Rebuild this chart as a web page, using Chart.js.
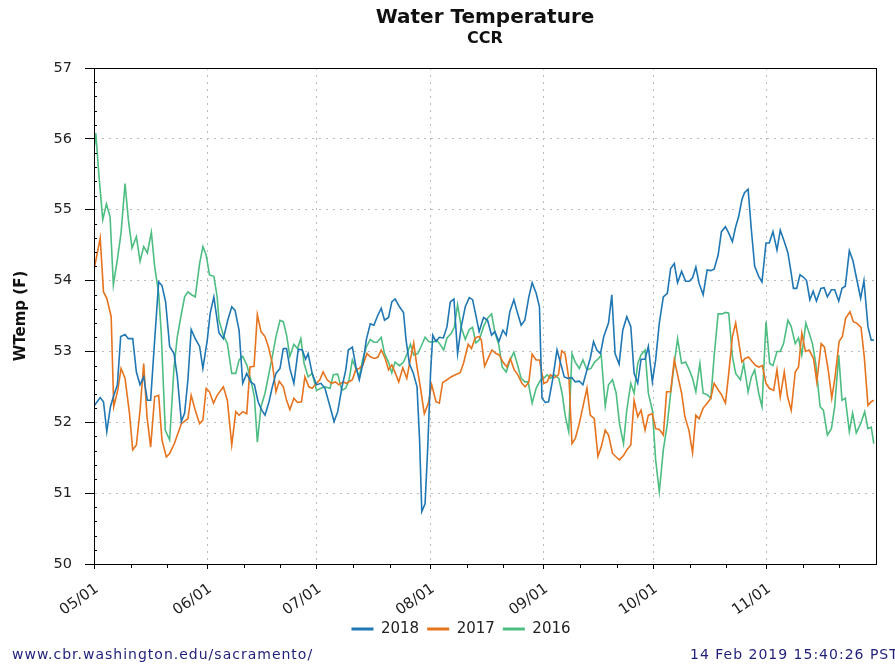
<!DOCTYPE html>
<html lang="en">
<head>
    <meta charset="UTF-8">
    <title>Water Temperature - CCR</title>
    <script src="https://cdn.jsdelivr.net/npm/chart.js"></script>
    <style>
        html, body {
            margin: 0;
            padding: 0;
            background: #fff;
            overflow: hidden;
        }
        canvas {
            display: block;
        }
    </style>
</head>
<body>
    <canvas id="tempChart" width="895" height="664"></canvas>

    <script>
        // x values are days after 05/01
        const monthDays = [0, 31, 61, 92, 123, 153, 184];
        const monthLabels = ['05/01', '06/01', '07/01', '08/01', '09/01', '10/01', '11/01'];
        const minorDays = [10, 20, 41, 51, 71, 81, 102, 112, 133, 143, 163, 173, 194, 204];
        const seriesNames = ['2018', '2017', '2016'];
        const seriesColors = ['#1f77b4', '#e6731e', '#4dbd82'];

        const days2018 = [0, 1.7, 2.6, 3.5, 4.5, 5.3, 6.4, 7.3, 8.5, 9.4, 10.6, 11.6, 12.6, 13.6, 14.6, 15.5, 16.6, 17.7, 18.6, 19.6, 20.7, 21.9, 22.8, 23.9, 24.8, 25.7, 26.6, 27.7, 28.9, 29.8, 31, 31.8, 32.8,
            34.2, 35.4, 36.6, 37.7, 38.6, 39.7, 40.7, 41.8, 42.9, 43.9, 44.9, 45.9, 46.8, 47.9, 48.8, 49.8, 50.9, 51.8, 52.7, 53.6, 54.7, 55.9, 57, 57.9, 58.6, 59.7, 60.9, 62.1, 63.2, 64.6, 65.7, 66.7, 67.8, 68.9,
            69.6, 70.7, 71.7, 72.6, 73.6, 74.5, 75.6, 76.6, 77.5, 78.6, 79.5, 80.6, 81.5, 82.4, 83.6, 84.7, 85.4, 86.3, 87.4, 88.4, 89.1, 89.7, 90.6, 91.3, 92.1, 92.7, 93.6, 94.5, 95.6, 96.6, 97.5, 98.5, 99.5, 100.5, 101.6, 102.7, 103.6, 104.5,
            105.4, 106.6, 107.7, 108.8, 109.7, 110.8, 111.9, 112.8, 113.8, 114.9, 115.8, 116.9, 117.9, 119, 119.9, 121, 121.9, 122.6, 123.5, 124.4, 125.5, 126.7, 127.6, 128.7, 129.7, 130.8, 131.7, 132.8, 133.8, 134.9, 135.8, 136.7, 137.6, 138.6, 139.5,
            140.8, 141.7, 142.6, 143.7, 144.7, 145.8, 146.9, 147.8, 148.8, 149.7, 150.8, 151.7, 152.8, 153.7, 154.7, 155.8, 156.9, 157.8, 158.8, 159.7, 160.8, 161.9, 162.9, 163.8, 164.7, 165.6, 166.7, 167.8, 168.8, 169.7, 170.8, 171.7, 172.8, 173.7, 174.7, 175.6,
            176.4, 177.3, 178, 179, 179.9, 180.8, 181.9, 182.8, 183.9, 184.8, 185.8, 186.9, 187.8, 188.9, 189.9, 190.8, 191.4, 192.3, 193.2, 194.1, 195, 195.9, 196.8, 197.7, 198.9, 199.8, 200.7, 201.8, 202.7, 203.8, 204.7, 205.6, 206.7, 207.7, 208.6, 209.8, 210.7, 211.8, 212.7, 213.4];
        const temp2018 = [52.23, 52.35, 52.29, 51.87, 52.22, 52.36, 52.53, 53.21, 53.24, 53.18, 53.18, 52.71, 52.53, 52.64, 52.31, 52.31, 53.16, 53.98, 53.93, 53.70, 53.07, 52.97, 52.64, 52.01, 52.13, 52.60, 53.31, 53.18, 53.07, 52.76, 53.16, 53.54, 53.77,
            53.26, 53.18, 53.44, 53.63, 53.58, 53.30, 52.55, 52.69, 52.57, 52.53, 52.29, 52.17, 52.10, 52.29, 52.50, 52.69, 52.76, 53.04, 53.04, 52.76, 52.55, 53.03, 53.02, 52.89, 52.97, 52.69, 52.53, 52.55, 52.48, 52.22, 52.01, 52.15, 52.48, 52.74,
            53.02, 53.06, 52.78, 52.60, 52.83, 53.16, 53.39, 53.37, 53.49, 53.61, 53.44, 53.48, 53.70, 53.74, 53.63, 53.55, 53.16, 52.83, 52.69, 52.50, 51.75, 50.74, 50.85, 51.61, 52.69, 53.23, 53.14, 53.20, 53.19, 53.35, 53.70, 53.74, 52.97, 53.35, 53.63, 53.76, 53.73, 53.51,
            53.28, 53.48, 53.44, 53.23, 53.28, 53.14, 53.30, 53.23, 53.56, 53.73, 53.56, 53.37, 53.44, 53.77, 53.97, 53.82, 53.63, 52.34, 52.28, 52.29, 52.60, 53.02, 52.85, 52.64, 52.62, 52.63, 52.57, 52.58, 52.53, 52.74, 52.90, 53.14, 53.02, 52.97, 53.21,
            53.40, 53.80, 52.97, 52.82, 53.30, 53.49, 53.35, 52.69, 52.55, 52.89, 52.89, 53.07, 52.57, 52.88, 53.40, 53.77, 53.82, 54.17, 54.24, 53.97, 54.13, 53.99, 53.99, 54.04, 54.19, 53.96, 53.80, 54.15, 54.14, 54.16, 54.36, 54.69, 54.76, 54.67, 54.55, 54.76,
            54.90, 55.14, 55.24, 55.29, 54.71, 54.20, 54.06, 53.98, 54.53, 54.53, 54.69, 54.43, 54.71, 54.55, 54.39, 54.10, 53.89, 53.89, 54.08, 54.05, 54.00, 53.73, 53.85, 53.71, 53.89, 53.90, 53.77, 53.87, 53.87, 53.71, 53.89, 53.92, 54.42, 54.28, 54.05, 53.75, 54.00, 53.35, 53.16, 53.16];

        const days2017 = [0, 1.7, 2.6, 3.5, 4.7, 5.4, 6.5, 7.4, 8.5, 9.7, 10.6, 11.6, 12.6, 13.6, 14.5, 15.5, 16.6, 17.7, 18.6, 19.8, 20.7, 22, 23.9, 25.7, 26.6, 27.7, 28.9, 29.8, 30.7, 31.6, 32.7, 33.7,
            35.4, 36.5, 37.7, 38.8, 39.7, 40.7, 41.8, 42.7, 43.8, 44.7, 45.7, 46.8, 47.7, 48.8, 49.8, 50.7, 51.8, 52.7, 53.6, 54.7, 55.7, 56.8, 57.7, 58.8, 59.7, 60.9, 61.8, 62.7, 63.8, 65, 66.1, 67, 68.2, 69.1,
            70.7, 71.7, 72.6, 73.6, 74.7, 75.7, 76.8, 77.7, 78.6, 79.7, 80.6, 81.5, 82.5, 83.4, 84.5, 85.6, 86.5, 87.5, 88.4, 89.3, 90.4, 91.5, 92.4, 93.6, 94.5, 95.4, 96.6, 97.7, 98.9, 100.2, 101.1, 102.4, 103.3, 104.3,
            105.4, 106, 106.9, 108, 108.9, 110, 110.9, 111.9, 113, 113.9, 115, 116, 117.1, 118, 119, 119.9, 121, 121.9, 123.1, 124, 124.9, 126, 127.1, 128, 128.9, 130, 130.8, 131.7, 132.8, 133.8, 134.9, 135.8, 136.9, 137.9, 138.8, 139.9,
            140.8, 141.9, 142.9, 143.8, 144.9, 145.8, 146.9, 147.8, 148.8, 149.7, 150.8, 151.7, 152.8, 153.7, 154.7, 155.8, 156.7, 157.8, 158.8, 159.7, 160.8, 161.7, 162.8, 163.8, 164.7, 165.6, 166.7, 167.8, 168.8, 169.7, 170.8, 171.7, 172.8, 173.7, 174.7, 175.6,
            176.2, 177.3, 178.2, 179.1, 180.2, 181.1, 182, 182.9, 183.9, 184.8, 186, 186.9, 187.8, 188.9, 189.8, 190.8, 191.9, 192.8, 193.7, 194.7, 195.7, 196.9, 197.8, 199, 199.9, 201, 201.9, 202.8, 203.9, 204.8, 205.7, 206.9, 207.8, 208.7, 209.9, 210.8, 211.8, 212.7, 213.4];
        const temp2017 = [54.15, 54.60, 53.84, 53.75, 53.49, 52.22, 52.45, 52.76, 52.62, 52.13, 51.61, 51.68, 52.17, 52.83, 52.08, 51.65, 52.36, 52.38, 51.75, 51.51, 51.56, 51.70, 51.98, 52.05, 52.38, 52.17, 51.98, 52.03, 52.48, 52.43, 52.27, 52.38,
            52.50, 52.31, 51.68, 52.15, 52.10, 52.15, 52.12, 52.78, 52.79, 53.52, 53.28, 53.21, 53.07, 52.83, 52.43, 52.58, 52.50, 52.31, 52.18, 52.34, 52.28, 52.29, 52.64, 52.50, 52.48, 52.55, 52.60, 52.71, 52.60, 52.55, 52.57, 52.53, 52.57, 52.55,
            52.60, 52.75, 52.76, 52.81, 52.97, 52.92, 52.90, 52.92, 53.02, 52.90, 52.74, 52.81, 52.69, 52.57, 52.77, 52.62, 52.87, 53.12, 52.78, 52.50, 52.12, 52.27, 52.53, 52.29, 52.27, 52.56, 52.60, 52.64, 52.67, 52.70, 52.83, 53.10, 53.04, 53.19,
            53.21, 53.16, 52.79, 52.92, 53.02, 52.97, 52.95, 52.85, 52.78, 52.90, 52.74, 52.67, 52.55, 52.50, 52.57, 52.96, 52.88, 52.88, 52.55, 52.57, 52.67, 52.63, 52.67, 53.01, 52.97, 52.60, 51.70, 51.77, 51.98, 52.22, 52.48, 52.10, 52.05, 51.52, 51.65, 51.89,
            51.82, 51.56, 51.51, 51.47, 51.53, 51.61, 51.68, 52.31, 52.08, 52.17, 51.89, 52.10, 52.12, 51.91, 51.90, 51.82, 52.43, 52.43, 52.88, 52.67, 52.41, 52.08, 51.89, 51.57, 52.10, 52.05, 52.20, 52.27, 52.34, 52.55, 52.46, 52.39, 52.27, 52.69, 53.21, 53.40,
            53.21, 52.85, 52.90, 52.92, 52.85, 52.80, 52.78, 52.80, 52.55, 52.48, 52.45, 52.74, 52.36, 52.71, 52.36, 52.17, 52.71, 52.78, 53.26, 53.00, 53.02, 52.90, 52.57, 53.11, 53.06, 52.71, 52.34, 52.64, 53.14, 53.21, 53.47, 53.56, 53.42, 53.40, 53.34, 52.92, 52.24, 52.29, 52.31];

        const days2016 = [0, 0.5, 1.4, 2.4, 3.4, 4.4, 5.3, 6.4, 7.4, 8.5, 9.4, 10.4, 11.6, 12.6, 13.6, 14.6, 15.7, 16.6, 17.7, 18.4, 19.5, 20.7, 21.9, 22.8, 23.8, 24.8, 25.7, 26.7, 27.7, 28.9, 29.8, 30.7, 31.6, 32.8, 33.7,
            34.2, 35.4, 36.5, 37.7, 38.8, 39.7, 40.7, 41.8, 42.9, 43.9, 44.7, 45.7, 46.8, 47.7, 48.8, 49.8, 50.9, 51.8, 52.7, 53.6, 54.7, 55.7, 56.6, 57.5, 58.6, 59.7, 60.9, 62.1, 63.2, 64.6, 65.5, 66.7, 67.8, 68.9,
            69.8, 70.7, 71.7, 72.6, 73.6, 74.5, 75.6, 76.6, 77.5, 78.6, 79.5, 80.6, 81.5, 82.4, 83.6, 84.7, 85.7, 86.6, 87.5, 88.6, 89.5, 90.6, 91.6, 92.7, 93.8, 94.7, 95.7, 96.6, 97.7, 98.6, 99.5, 100.5, 101.6, 102.7, 103.6, 104.5,
            105.4, 106.6, 107.7, 108.8, 109.7, 110.8, 111.7, 112.8, 113.8, 114.9, 115.8, 116.9, 117.9, 118.8, 119.9, 121, 122.2, 123.1, 124, 124.9, 126, 127.2, 128.1, 129, 129.9, 130.8, 131.7, 132.8, 133.8, 134.9, 136, 137, 138.1, 138.8, 139.9,
            140.8, 141.9, 142.9, 143.8, 144.9, 145.8, 146.9, 147.8, 148.8, 149.7, 150.8, 151.7, 152.8, 153.7, 154.7, 155.8, 156.9, 157.8, 158.8, 159.7, 160.8, 161.9, 162.9, 163.8, 164.7, 165.8, 166.7, 167.8, 168.8, 169.7, 170.8, 171.9, 172.8, 173.7, 174.7, 175.6,
            176.9, 177.8, 179, 179.9, 180.8, 181.9, 182.8, 183.9, 184.9, 185.8, 186.9, 187.8, 188.7, 189.9, 190.8, 191.9, 192.8, 193.7, 194.8, 195.7, 196.6, 197.5, 198.7, 199.6, 200.7, 201.8, 202.7, 203.8, 204.7, 205.6, 206.7, 207.6, 208.6, 209.8, 210.9, 211.8, 212.7, 213.4];
        const temp2016 = [55.85, 56.08, 55.45, 54.86, 55.08, 54.90, 53.94, 54.30, 54.67, 55.37, 54.86, 54.46, 54.62, 54.27, 54.48, 54.39, 54.68, 54.20, 53.82, 53.26, 51.89, 51.75, 52.78, 53.21, 53.50, 53.77, 53.84, 53.80, 53.77, 54.24, 54.48, 54.36, 54.08, 54.06, 53.77,
            53.44, 53.23, 53.11, 52.69, 52.69, 52.88, 52.93, 52.81, 52.60, 52.36, 51.72, 52.22, 52.41, 52.64, 52.93, 53.21, 53.44, 53.42, 53.23, 52.93, 53.10, 53.04, 53.18, 52.83, 52.64, 52.69, 52.45, 52.48, 52.50, 52.48, 52.67, 52.68, 52.45, 52.48,
            52.60, 52.88, 52.76, 52.64, 52.90, 53.06, 53.17, 53.13, 53.13, 53.20, 52.97, 52.85, 52.70, 52.85, 52.80, 52.85, 52.97, 53.10, 52.95, 52.97, 53.07, 53.20, 53.14, 53.13, 53.16, 53.10, 53.02, 53.19, 53.25, 53.34, 53.66, 53.34, 53.17, 53.31, 53.34, 53.12,
            53.16, 53.35, 53.47, 53.53, 53.27, 53.09, 52.78, 52.71, 52.87, 52.99, 52.83, 52.62, 52.57, 52.57, 52.27, 52.48, 52.60, 52.62, 52.67, 52.62, 52.67, 52.62, 52.41, 52.08, 51.87, 52.97, 52.85, 52.76, 52.88, 52.74, 52.76, 52.85, 52.90, 52.95, 52.23,
            52.53, 52.60, 52.41, 51.98, 51.70, 52.17, 52.55, 52.41, 52.83, 52.95, 53.02, 52.41, 52.17, 51.47, 51.02, 51.61, 51.98, 52.41, 52.83, 53.18, 52.83, 52.85, 52.74, 52.62, 52.43, 52.83, 52.41, 52.39, 52.34, 52.93, 53.53, 53.53, 53.55, 53.54, 52.93, 52.69,
            52.60, 52.83, 52.43, 52.64, 52.74, 52.41, 52.22, 53.42, 52.83, 52.80, 53.00, 53.00, 53.11, 53.44, 53.35, 53.11, 53.19, 52.95, 53.40, 53.26, 53.11, 52.83, 52.22, 52.17, 51.82, 51.91, 52.22, 52.95, 52.31, 52.34, 51.87, 52.13, 51.85, 51.98, 52.15, 51.91, 51.93, 51.70];

        const FONT = 'DejaVu Sans';
        Chart.defaults.font.family = FONT;

        function toPoints(days, temps) {
            return days.map((d, i) => ({ x: d, y: temps[i] }));
        }

        const allDays = [days2018, days2017, days2016];
        const allTemps = [temp2018, temp2017, temp2016];

        const datasets = seriesNames.map((name, i) => ({
            label: name,
            data: toPoints(allDays[i], allTemps[i]),
            borderColor: seriesColors[i],
            backgroundColor: seriesColors[i],
            borderWidth: 1.6,
            pointRadius: 0,
            tension: 0,
            fill: false
        }));

        // frame, minor ticks, titles and footer
        const decorations = {
            id: 'decorations',
            afterDraw(chart) {
                const { ctx, chartArea: a, scales: { x, y } } = chart;
                ctx.save();
                ctx.strokeStyle = '#000';
                ctx.lineWidth = 1;
                ctx.strokeRect(a.left + 0.5, a.top + 0.5, a.right - a.left, a.bottom - a.top);

                ctx.beginPath();
                minorDays.forEach(d => {
                    const px = Math.round(x.getPixelForValue(d)) + 0.5;
                    ctx.moveTo(px, a.bottom);
                    ctx.lineTo(px, a.bottom + 4);
                });
                for (let k = 1; k < 35; k++) {
                    if (k % 5 === 0) continue;
                    const py = Math.round(y.getPixelForValue(50 + k * 0.2)) + 0.5;
                    ctx.moveTo(a.left, py);
                    ctx.lineTo(a.left + 3, py);
                }
                ctx.stroke();

                const cx = (a.left + a.right) / 2;
                ctx.fillStyle = '#111';
                ctx.textAlign = 'center';
                ctx.textBaseline = 'middle';
                ctx.font = 'bold 20px "' + FONT + '"';
                ctx.fillText('Water Temperature', cx, 18);
                ctx.font = 'bold 16px "' + FONT + '"';
                ctx.fillText('CCR', cx, 39);

                ctx.fillStyle = '#1f1f7a';
                ctx.font = '14px "' + FONT + '"';
                ctx.letterSpacing = '1px';
                ctx.textAlign = 'left';
                ctx.fillText('www.cbr.washington.edu/sacramento/', 12, 655);
                ctx.fillText('14 Feb 2019 15:40:26 PST', 690, 655);
                ctx.restore();
            }
        };

        const ctx = document.getElementById('tempChart').getContext('2d');
        const tempChart = new Chart(ctx, {
            type: 'line',
            data: { datasets: datasets },
            options: {
                responsive: false,
                animation: false,
                devicePixelRatio: 1,
                layout: {
                    padding: { left: 46, right: 19, top: 68, bottom: 17.5 }
                },
                scales: {
                    x: {
                        type: 'linear',
                        min: 0,
                        max: 214,
                        afterBuildTicks: (scale) => {
                            scale.ticks = monthDays.map(v => ({ value: v }));
                        },
                        afterFit: (scale) => { scale.height = 49.5; },
                        ticks: {
                            autoSkip: false,
                            minRotation: 35,
                            maxRotation: 35,
                            padding: 11,
                            labelOffset: 3,
                            color: '#222',
                            font: { size: 15 },
                            callback: (v) => monthLabels[monthDays.indexOf(v)]
                        },
                        grid: { color: '#bbb', lineWidth: 1, tickLength: 5, tickColor: '#000' },
                        border: { color: '#000', width: 1, dash: [2, 5] }
                    },
                    y: {
                        min: 50,
                        max: 57,
                        afterFit: (scale) => { scale.width = 48; },
                        ticks: {
                            stepSize: 1,
                            padding: 13,
                            color: '#222',
                            font: { size: 14.5 }
                        },
                        grid: { color: '#bbb', lineWidth: 1, tickLength: 9, tickColor: '#000' },
                        border: { color: '#000', width: 1, dash: [2, 5] },
                        title: {
                            display: true,
                            text: 'WTemp (F)',
                            color: '#111',
                            font: { size: 15, weight: 'bold' },
                            padding: { top: -34, bottom: 0 }
                        }
                    }
                },
                plugins: {
                    title: { display: false },
                    tooltip: { enabled: false },
                    legend: {
                        position: 'bottom',
                        align: 'center',
                        labels: {
                            usePointStyle: true,
                            pointStyle: 'line',
                            pointStyleWidth: 22,
                            padding: 8,
                            color: '#222',
                            font: { size: 15 },
                            generateLabels: (chart) => Chart.defaults.plugins.legend.labels.generateLabels(chart)
                                .map(item => Object.assign(item, { lineWidth: 3 }))
                        }
                    }
                }
            },
            plugins: [decorations]
        });
    </script>
</body>
</html>
